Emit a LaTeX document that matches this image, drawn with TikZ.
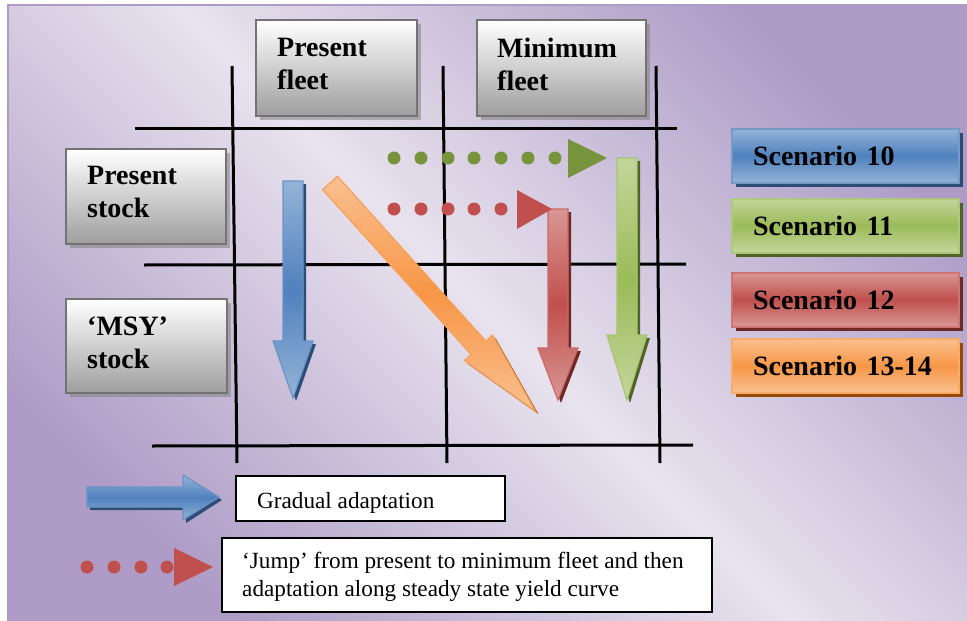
\documentclass[tikz,border=0pt]{standalone}
\usepackage{fontspec}
\setmainfont{Liberation Serif}
\usetikzlibrary{shadows}

\definecolor{bgP}{RGB}{174,156,198}
\definecolor{bgL}{RGB}{232,227,238}
\definecolor{blueL}{RGB}{149,179,215}
\definecolor{blueM}{RGB}{79,129,189}
\definecolor{blueD}{RGB}{44,77,117}
\definecolor{greenL}{RGB}{195,214,155}
\definecolor{greenM}{RGB}{155,187,89}
\definecolor{greenD}{RGB}{79,98,40}
\definecolor{greenDot}{RGB}{119,147,60}
\definecolor{redL}{RGB}{217,150,148}
\definecolor{redM}{RGB}{192,80,77}
\definecolor{redD}{RGB}{110,40,38}
\definecolor{orL}{RGB}{250,192,144}
\definecolor{orM}{RGB}{247,150,70}
\definecolor{orD}{RGB}{152,72,7}

\newcommand{\vArrowShape}[7]{%
  \fill[#7, shift={(3,3)}] (#1-10,#2) -- (#1+10,#2) -- (#1+10,#3) -- (#1+20,#3) -- (#1,#4) -- (#1-20,#3) -- (#1-10,#3) -- cycle;
  \shade[draw=#6!85!white, line width=1.2pt, top color=#5, bottom color=#5, middle color=#6]
    (#1-10,#2) -- (#1+10,#2) -- (#1+10,#3) -- (#1+20,#3) -- (#1,#4) -- (#1-20,#3) -- (#1-10,#3) -- cycle;
}

\begin{document}
\begin{tikzpicture}[x=1pt,y=-1pt,
  gridline/.style={line width=3pt, black},
  graybox/.style={draw=black!55, line width=2pt, top color=white, bottom color=black!38, inner sep=0pt,
    drop shadow={shadow xshift=4pt, shadow yshift=-4pt, fill=black!50, opacity=0.55}},
  graytext/.style={font=\fontsize{28}{33}\selectfont\bfseries, align=left, inner sep=0pt, anchor=north west},
  scenbox/.style n args={3}{draw=#2!80!white, line width=2pt, top color=#1, bottom color=#1, middle color=#2,
    minimum width=227pt, minimum height=54pt, text width=185pt, inner xsep=21pt, inner ysep=0pt, align=left,
    font=\fontsize{28}{33}\selectfont\bfseries,
    drop shadow={shadow xshift=4pt, shadow yshift=-4pt, fill=#3, opacity=1}},
  legbox/.style={draw=black, line width=1.5pt, fill=white, inner sep=0pt},
  legtext/.style={font=\fontsize{23.2}{28}\selectfont, inner sep=0pt, align=left},
  gdot/.style={fill=greenDot},
  rdot/.style={fill=redM}
]
\useasboundingbox (0,0) rectangle (967,621);

% background frame
\fill[white] (0,0) rectangle (967,621);
\shade[top color=bgP, bottom color=bgP, middle color=bgL, shading angle=-45] (8,5) rectangle (967,621);
\draw[bgP, line width=2pt] (8,621) -- (8,5) -- (967,5);

% grid lines
\draw[gridline] (232,66) -- (237,463);
\draw[gridline] (443,66) -- (447,463);
\draw[gridline] (656,66) -- (660,463);
\draw[gridline] (135,128) -- (677,128);
\draw[gridline] (144,265) -- (686,264);
\draw[gridline] (152,446) -- (693,445);

% gray header boxes
\node[graybox, minimum width=161pt, minimum height=96pt] (pfbox) at (336.5,68) {};
\node[graytext] (pftext) at (277,38) {Present\\fleet};
\node[graybox, minimum width=169pt, minimum height=96pt] (mfbox) at (561.5,68) {};
\node[graytext] (mftext) at (497,38) {Minimum\\fleet};
\node[graybox, minimum width=160pt, minimum height=95pt] (psbox) at (146,196.5) {};
\node[graytext] (pstext) at (87,166) {Present\\stock};
\node[graybox, minimum width=161pt, minimum height=94pt] (msbox) at (146.5,346) {};
\node[graytext] (mstext) at (87,317) {‘MSY’\\stock};

% scenario boxes
\node[scenbox={blueL}{blueM}{blueD}] (s10) at (845.5,156) {Scenario 10};
\node[scenbox={greenL}{greenM}{greenD}] (s11) at (845.5,225.5) {Scenario 11};
\node[scenbox={redL}{redM}{redD}] (s12) at (845.5,299.5) {Scenario 12};
\node[scenbox={orL}{orM}{orD}] (s13) at (845.5,366) {Scenario 13-14};

% dotted jumps
\foreach \xx in {394,421,448,474,501,528,555} \fill[gdot] (\xx,158) circle (6.5);
\fill[greenDot] (568,139) -- (607,158) -- (568,178) -- cycle;
\foreach \xx in {394,421,448,474,501} \fill[rdot] (\xx,209) circle (6.5);

% vertical arrows
\vArrowShape{293}{181}{341}{398}{blueL}{blueM}{blueD}
\vArrowShape{558}{209}{348}{400}{redL}{redM}{redD}
\fill[redM] (517,190) -- (552,209) -- (517,229) -- cycle;
\vArrowShape{627}{158}{335}{400}{greenL}{greenM}{greenD}

% diagonal orange arrow
\fill[orD, shift={(3,3)}] (337.4,176.3) -- (485.9,341.2) -- (492.6,335.2) -- (535.4,411.1) -- (464.4,360.6) -- (471.1,354.6) -- (322.6,189.7) -- cycle;
\shade[draw=orM!90!white, line width=1.2pt, top color=orL, bottom color=orL, middle color=orM]
  (337.4,176.3) -- (485.9,341.2) -- (492.6,335.2) -- (535.4,411.1) -- (464.4,360.6) -- (471.1,354.6) -- (322.6,189.7) -- cycle;

% legend
\fill[blueD, shift={(3,3)}] (87,487) -- (183,487) -- (183,475) -- (219,497) -- (183,520) -- (183,507) -- (87,507) -- cycle;
\shade[draw=blueM!85!white, line width=1.2pt, top color=blueL, bottom color=blueL, middle color=blueM]
  (87,487) -- (183,487) -- (183,475) -- (219,497) -- (183,520) -- (183,507) -- (87,507) -- cycle;
\node[legbox, minimum width=269pt, minimum height=45pt] (gradbox) at (370.5,498.5) {};
\node[legtext, anchor=base west] (gradtext) at (257,508) {Gradual adaptation};

\foreach \xx in {87,114,141,167} \fill[rdot] (\xx,567) circle (6.5);
\fill[redM] (174,548) -- (213,567) -- (174,586) -- cycle;
\node[legbox, minimum width=490pt, minimum height=74pt] (jumpbox) at (467,575) {};
\node[legtext, anchor=north west] (jumptext) at (242,552) {‘Jump’ from present to minimum fleet and then\\adaptation along steady state yield curve};
\end{tikzpicture}
\end{document}
